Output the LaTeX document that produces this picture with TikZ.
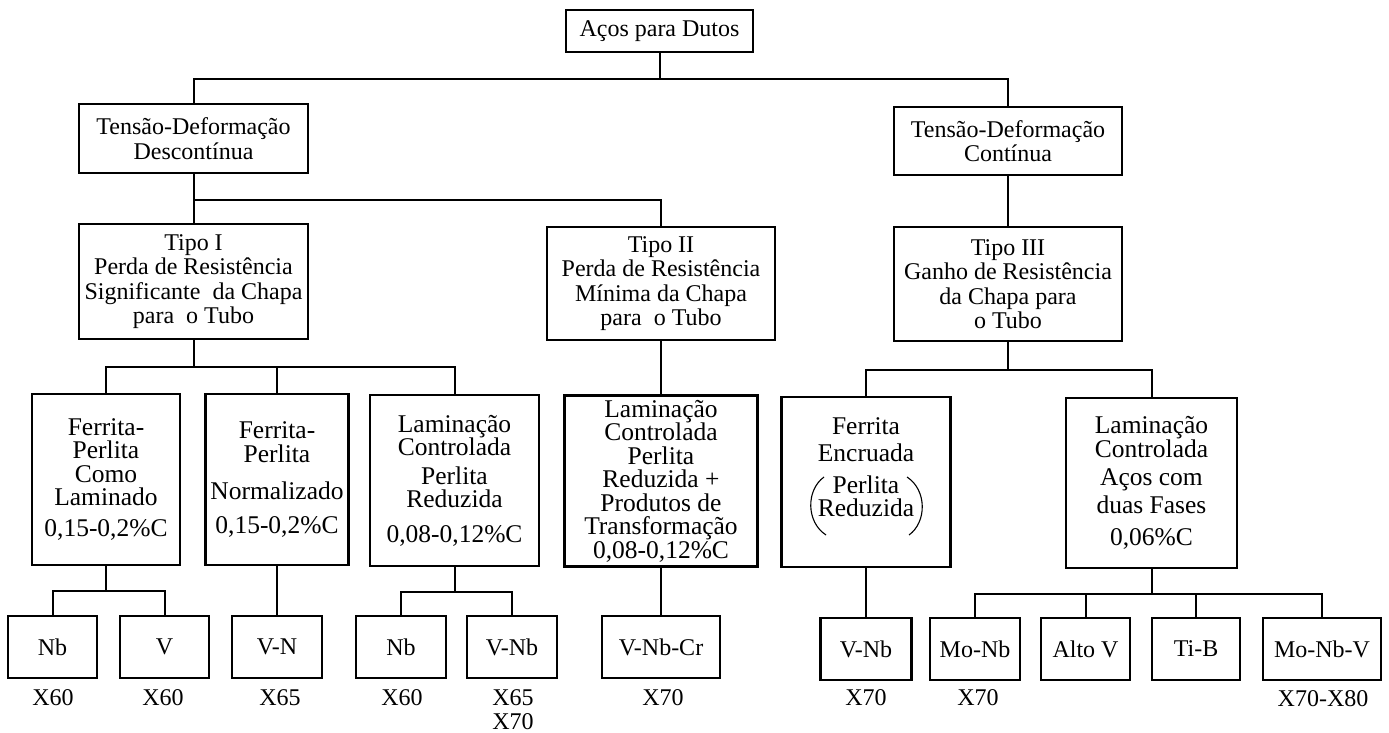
\documentclass[tikz,border=0pt]{standalone}
\usepackage{fontspec}
\setmainfont{Liberation Serif}
\begin{document}
\begin{tikzpicture}[x=1pt,y=-1pt,
  box/.style={draw, line width=2.6pt, align=center, inner sep=0pt, rectangle},
  upper/.style={box, font=\fontsize{24}{24.5}\selectfont},
  lower/.style={box, font=\fontsize{25.5}{23.5}\selectfont, minimum height=171},
  leaf/.style={box, font=\fontsize{24}{24}\selectfont, minimum height=62},
  lbl/.style={align=center, inner sep=0pt, font=\fontsize{24}{24}\selectfont},
  conn/.style={line width=2pt},
  paren/.style={line width=1.1pt}]
\useasboundingbox (0,0) rectangle (1389,733);

% level 0
\node[upper, minimum width=187, minimum height=42] (top) at (659.5,31) {Aços para Dutos};
% level 1
\node[upper, minimum width=229, minimum height=69] (tdL) at (193.5,138.5) {Tensão-Deformação\\Descontínua};
\node[upper, minimum width=228, minimum height=68] (tdR) at (1008,141) {Tensão-Deformação\\Contínua};
% level 2
\node[upper, minimum width=229, minimum height=115] (t1) at (193.5,281.5) {Tipo I\\Perda de Resistência\\Significante\ \ da Chapa\\para\ \ o Tubo};
\node[upper, minimum width=228, minimum height=113] (t2) at (661,283.5) {Tipo II\\Perda de Resistência\\Mínima da Chapa\\para\ \ o Tubo};
\node[upper, minimum width=228, minimum height=114] (t3) at (1008,284) {Tipo III\\Ganho de Resistência\\da Chapa para\\o Tubo};
% level 3
\node[lower, minimum width=148] (a1) at (106,479.5) {Ferrita-\\Perlita\\Como\\Laminado\\[7pt]0,15-0,2\%C};
\node[lower, minimum width=143] (a2) at (277,479.5) {Ferrita-\\Perlita\\[14pt]Normalizado\\[10pt]0,15-0,2\%C};
\node[lower, minimum width=169] (a3) at (454.5,480.5) {Laminação\\Controlada\\[5pt]Perlita\\Reduzida\\[11pt]0,08-0,12\%C};
\node[lower, minimum width=193] (a4) at (661,481) {Laminação\\Controlada\\Perlita\\Reduzida +\\Produtos de\\Transformação\\0,08-0,12\%C};
\node[lower, minimum width=169, minimum height=170] (a5) at (866,482) {Ferrita\\[4pt]Encruada\\[8pt]Perlita\\Reduzida\\[6pt]};
\node[lower, minimum width=171, minimum height=170] (a6) at (1151.5,483) {Laminação\\Controlada\\[5pt]Aços com\\[4pt]duas Fases\\[9pt]0,06\%C};
% parentheses round "Perlita Reduzida"
\draw[paren] (824,477) .. controls (806,490) and (806,522) .. (826,535);
\draw[paren] (907,477) .. controls (927,490) and (927,522) .. (909,535);
% level 4
\node[leaf, minimum width=89] (b1) at (52.5,647) {Nb};
\node[leaf, minimum width=89] (b2) at (164.5,647) {V};
\node[leaf, minimum width=90] (b3) at (277,647) {V-N};
\node[leaf, minimum width=90] (b4) at (401,647) {Nb};
\node[leaf, minimum width=90] (b5) at (512,647) {V-Nb};
\node[leaf, minimum width=118] (b6) at (661,647) {V-Nb-Cr};
\node[leaf, minimum width=91] (b7) at (866,649) {V-Nb};
\node[leaf, minimum width=90] (b8) at (975,649) {Mo-Nb};
\node[leaf, minimum width=89] (b9) at (1085.5,649) {Alto V};
\node[leaf, minimum width=88] (b10) at (1196,649) {Ti-B};
\node[leaf, minimum width=118] (b11) at (1322,649) {Mo-Nb-V};
% grade labels
\node[lbl] (l1) at (53,698) {X60};
\node[lbl] (l2) at (163,698) {X60};
\node[lbl] (l3) at (280,698) {X65};
\node[lbl] (l4) at (402,698) {X60};
\node[lbl] (l5) at (513,710) {X65\\X70};
\node[lbl] (l6) at (663,698) {X70};
\node[lbl] (l7) at (866,698) {X70};
\node[lbl] (l8) at (978,698) {X70};
\node[lbl] (l9) at (1323,699) {X70-X80};

% junctions
\coordinate (j0) at (659.5,79);
\coordinate (j1) at (193.5,200);
\coordinate (j2) at (193.5,367);
\coordinate (j3) at (1008,370);
\coordinate (j4) at (106,591);
\coordinate (j5) at (454.5,592);
\coordinate (j6) at (1151.5,594);

% connectors
\draw[conn] (top.south) -- (j0) -| (tdL.north);
\draw[conn] (j0) -| (tdR.north);
\draw[conn] (tdL.south) -- (j1) -- (t1.north);
\draw[conn] (j1) -| (t2.north);
\draw[conn] (tdR.south) -- (t3.north);
\draw[conn] (t1.south) -- (j2) -| (a1.north);
\draw[conn] (j2) -| (a2.north);
\draw[conn] (j2) -| (a3.north);
\draw[conn] (t2.south) -- (a4.north);
\draw[conn] (t3.south) -- (j3) -| (a5.north);
\draw[conn] (j3) -| (a6.north);
\draw[conn] (a1.south) -- (j4) -| (b1.north);
\draw[conn] (j4) -| (b2.north);
\draw[conn] (a2.south) -- (b3.north);
\draw[conn] (a3.south) -- (j5) -| (b4.north);
\draw[conn] (j5) -| (b5.north);
\draw[conn] (a4.south) -- (b6.north);
\draw[conn] (a5.south) -- (b7.north);
\draw[conn] (a6.south) -- (j6) -| (b8.north);
\draw[conn] (j6) -| (b9.north);
\draw[conn] (j6) -| (b10.north);
\draw[conn] (j6) -| (b11.north);
\end{tikzpicture}
\end{document}
